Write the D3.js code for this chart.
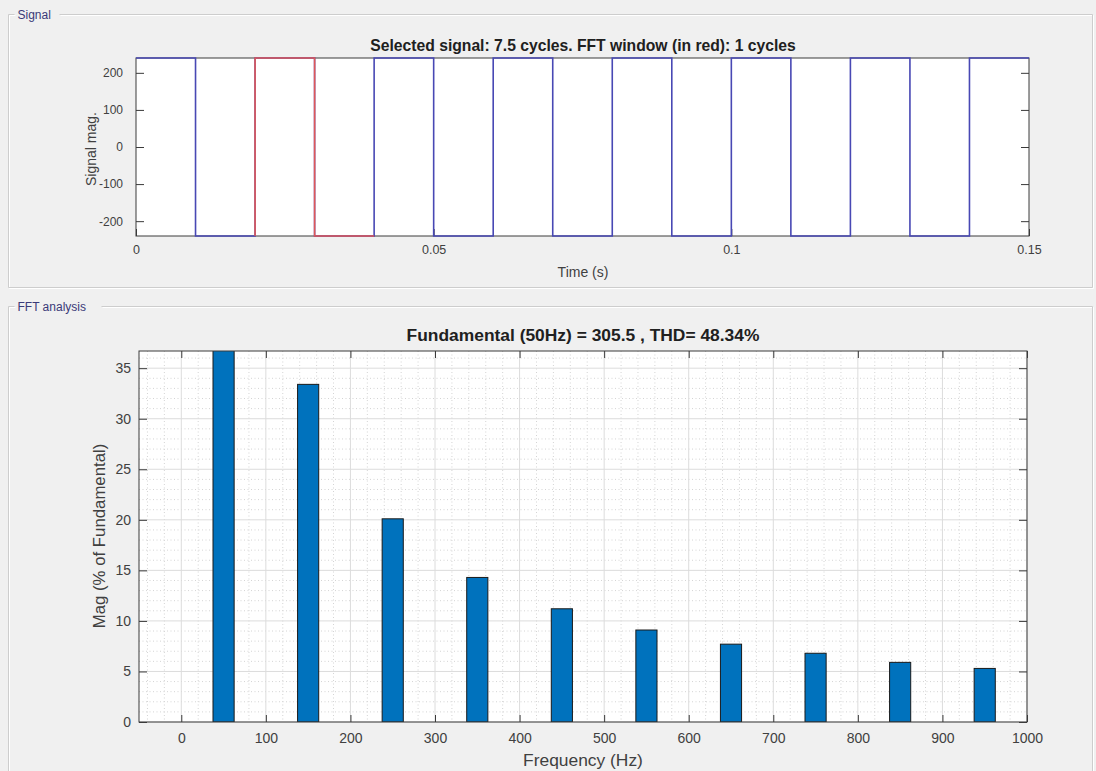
<!DOCTYPE html>
<html>
<head>
<meta charset="utf-8">
<script src="https://cdn.jsdelivr.net/npm/d3@7"></script>
<style>
  html, body { margin: 0; padding: 0; background: #f0f0f0; }
  svg { display: block; font-family: "Liberation Sans", Arial, Helvetica, sans-serif; }
</style>
</head>
<body>
<svg id="chart" width="1096" height="771"></svg>
<script>
// ---- Signal panel data: square wave edges (s) and level held after each edge
const signalTimes  = [0, 0.01, 0.02, 0.03, 0.04, 0.05, 0.06, 0.07, 0.08, 0.09, 0.10, 0.11, 0.12, 0.13, 0.14, 0.15];
const signalLevels = [240, -240, 240, -240, 240, -240, 240, -240, 240, -240, 240, -240, 240, -240, 240, 240];
const fftWindow    = [0.02, 0.04];
const timeTicks    = [0, 0.05, 0.1, 0.15];
const signalTicks  = [-200, -100, 0, 100, 200];

// ---- FFT panel data: harmonic frequencies (Hz) and magnitudes (% of fundamental)
const harmonicFreqs = [50, 150, 250, 350, 450, 550, 650, 750, 850, 950];
const harmonicMags  = [100, 33.4, 20.1, 14.3, 11.2, 9.1, 7.7, 6.8, 5.9, 5.3];
const freqTicks     = [0, 100, 200, 300, 400, 500, 600, 700, 800, 900, 1000];
const magTicks      = [0, 5, 10, 15, 20, 25, 30, 35];

const signalTitle = "Selected signal: 7.5 cycles. FFT window (in red): 1 cycles";
const fftTitle    = "Fundamental (50Hz) = 305.5 , THD= 48.34%";

const svg = d3.select("#chart");
const axisColor = "#3a3a3a";
const labelColor = "#404040";
const plain = d => String(d);   // "-200", "0.05", "1000" as written

// ---------- group boxes ----------
function groupBox(x, y, w, h, label, labelW) {
  const g = svg.append("g");
  const pts = [[x + 7 + labelW, y], [x + w, y], [x + w, y + h], [x, y + h], [x, y], [x + 6, y]];
  const line = d3.line();
  g.append("path").attr("d", line(pts.map(p => [p[0] + 1, p[1] + 1]))).attr("fill", "none").attr("stroke", "#ffffff");
  g.append("path").attr("d", line(pts)).attr("fill", "none").attr("stroke", "#cdcdcd");
  g.append("text").attr("x", x + 9).attr("y", y + 4)
    .attr("font-size", 12).attr("fill", "#3a3a78").text(label);
}
groupBox(8.5, 14.5, 1084, 273, "Signal", 44);
groupBox(8.5, 306.5, 1084, 480, "FFT analysis", 86);

// ---------- signal plot ----------
const tx = d3.scaleLinear().domain([0, 0.15]).range([136, 1029]);
const ty = d3.scaleLinear().domain([-240, 240]).range([236, 58]);

const sigPlot = svg.append("g");
sigPlot.append("rect").attr("x", 136).attr("y", 58).attr("width", 1029 - 136).attr("height", 236 - 58)
  .attr("fill", "#ffffff");

function styleAxis(g, size) {
  g.select(".domain").remove();
  g.selectAll(".tick line").attr("stroke", axisColor);
  g.selectAll(".tick text").attr("fill", labelColor).attr("font-size", size);
}

sigPlot.append("g").attr("transform", "translate(0,236)")
  .call(d3.axisBottom(tx).tickValues(timeTicks).tickFormat(plain).tickSizeInner(-7).tickSizeOuter(0).tickPadding(9))
  .call(g => styleAxis(g, 12.5));
sigPlot.append("g").attr("transform", "translate(136,0)")
  .call(d3.axisLeft(ty).tickValues(signalTicks).tickFormat(plain).tickSizeInner(-8).tickSizeOuter(0).tickPadding(13))
  .call(g => styleAxis(g, 12));
sigPlot.append("g").attr("transform", "translate(1029,0)")
  .call(d3.axisRight(ty).tickValues(signalTicks).tickFormat("").tickSizeInner(-8).tickSizeOuter(0))
  .call(g => styleAxis(g, 12));

sigPlot.append("rect").attr("x", 136).attr("y", 58).attr("width", 1029 - 136).attr("height", 236 - 58)
  .attr("fill", "none").attr("stroke", axisColor).attr("stroke-width", 1);

const signalPts = signalTimes.map((t, i) => [t, signalLevels[i]]);
const stepLine = d3.line().x(d => tx(d[0])).y(d => ty(d[1])).curve(d3.curveStepAfter);
sigPlot.append("path").attr("d", stepLine(signalPts))
  .attr("fill", "none").attr("stroke", "#4848b4").attr("stroke-width", 1.6);

// FFT window section in red
const startIdx = signalTimes.findIndex(t => Math.abs(t - fftWindow[0]) < 1e-9);
const windowPts = [[fftWindow[0], signalLevels[startIdx - 1]]]
  .concat(signalPts.filter(p => p[0] >= fftWindow[0] - 1e-9 && p[0] <= fftWindow[1] + 1e-9));
windowPts[windowPts.length - 1] = [fftWindow[1], windowPts[windowPts.length - 2][1]];
sigPlot.append("path").attr("d", stepLine(windowPts))
  .attr("fill", "none").attr("stroke", "#e05858").attr("stroke-width", 1.6);

sigPlot.append("text").attr("x", 583).attr("y", 51).attr("text-anchor", "middle")
  .attr("font-size", 15.7).attr("font-weight", "bold").attr("fill", "#202020").text(signalTitle);
sigPlot.append("text").attr("x", 583).attr("y", 277).attr("text-anchor", "middle")
  .attr("font-size", 14).attr("fill", labelColor).text("Time (s)");
sigPlot.append("text").attr("transform", "translate(96,149) rotate(-90)").attr("text-anchor", "middle")
  .attr("font-size", 14).attr("fill", labelColor).text("Signal mag.");

// ---------- FFT bar plot ----------
const fx = d3.scaleLinear().domain([-50, 1000]).range([139, 1027]);
const fy = d3.scaleLinear().domain([0, 36.7]).range([722, 351]);
const barWidth = 25; // Hz

const fftPlot = svg.append("g");
fftPlot.append("rect").attr("x", 139).attr("y", 351).attr("width", 1027 - 139).attr("height", 722 - 351)
  .attr("fill", "#ffffff");

fftPlot.append("clipPath").attr("id", "fftClip")
  .append("rect").attr("x", 139).attr("y", 351).attr("width", 1027 - 139).attr("height", 722 - 351);

// minor grid (dotted)
const grid = fftPlot.append("g");
grid.selectAll("line.mx").data(fx.ticks(50).filter(v => v % 100 !== 0)).join("line")
  .attr("x1", d => fx(d)).attr("x2", d => fx(d)).attr("y1", 351).attr("y2", 722)
  .attr("stroke", "#d4d4d4").attr("stroke-dasharray", "1,2.5");
grid.selectAll("line.my").data(fy.ticks(36).filter(v => v % 5 !== 0)).join("line")
  .attr("y1", d => fy(d)).attr("y2", d => fy(d)).attr("x1", 139).attr("x2", 1027)
  .attr("stroke", "#d4d4d4").attr("stroke-dasharray", "1,2.5");
// major grid
grid.selectAll("line.gx").data(freqTicks).join("line")
  .attr("x1", d => fx(d)).attr("x2", d => fx(d)).attr("y1", 351).attr("y2", 722)
  .attr("stroke", "#dcdcdc");
grid.selectAll("line.gy").data(magTicks).join("line")
  .attr("y1", d => fy(d)).attr("y2", d => fy(d)).attr("x1", 139).attr("x2", 1027)
  .attr("stroke", "#dcdcdc");

// bars
fftPlot.append("g").attr("clip-path", "url(#fftClip)")
  .selectAll("rect").data(harmonicFreqs).join("rect")
  .attr("x", (d) => fx(d - barWidth / 2))
  .attr("width", (d) => fx(d + barWidth / 2) - fx(d - barWidth / 2))
  .attr("y", (d, i) => fy(harmonicMags[i]))
  .attr("height", (d, i) => fy(0) - fy(harmonicMags[i]))
  .attr("fill", "#0072bd").attr("stroke", "#1a1a1a").attr("stroke-width", 1);

fftPlot.append("g").attr("transform", "translate(0,722)")
  .call(d3.axisBottom(fx).tickValues(freqTicks).tickFormat(plain).tickSizeInner(-7).tickSizeOuter(0).tickPadding(11))
  .call(g => styleAxis(g, 14));
fftPlot.append("g").attr("transform", "translate(0,351)")
  .call(d3.axisTop(fx).tickValues(freqTicks).tickFormat("").tickSizeInner(-7).tickSizeOuter(0))
  .call(g => styleAxis(g, 14));
fftPlot.append("g").attr("transform", "translate(139,0)")
  .call(d3.axisLeft(fy).tickValues(magTicks).tickFormat(plain).tickSizeInner(-8).tickSizeOuter(0).tickPadding(8))
  .call(g => styleAxis(g, 14));
fftPlot.append("g").attr("transform", "translate(1027,0)")
  .call(d3.axisRight(fy).tickValues(magTicks).tickFormat("").tickSizeInner(-8).tickSizeOuter(0))
  .call(g => styleAxis(g, 14));

fftPlot.append("rect").attr("x", 139).attr("y", 351).attr("width", 1027 - 139).attr("height", 722 - 351)
  .attr("fill", "none").attr("stroke", axisColor).attr("stroke-width", 1);

fftPlot.append("text").attr("x", 583).attr("y", 341).attr("text-anchor", "middle")
  .attr("font-size", 17.4).attr("font-weight", "bold").attr("fill", "#202020").text(fftTitle);
fftPlot.append("text").attr("x", 583).attr("y", 766).attr("text-anchor", "middle")
  .attr("font-size", 17.4).attr("fill", labelColor).text("Frequency (Hz)");
fftPlot.append("text").attr("transform", "translate(105,536) rotate(-90)").attr("text-anchor", "middle")
  .attr("font-size", 16.8).attr("fill", labelColor).text("Mag (% of Fundamental)");
</script>
</body>
</html>
